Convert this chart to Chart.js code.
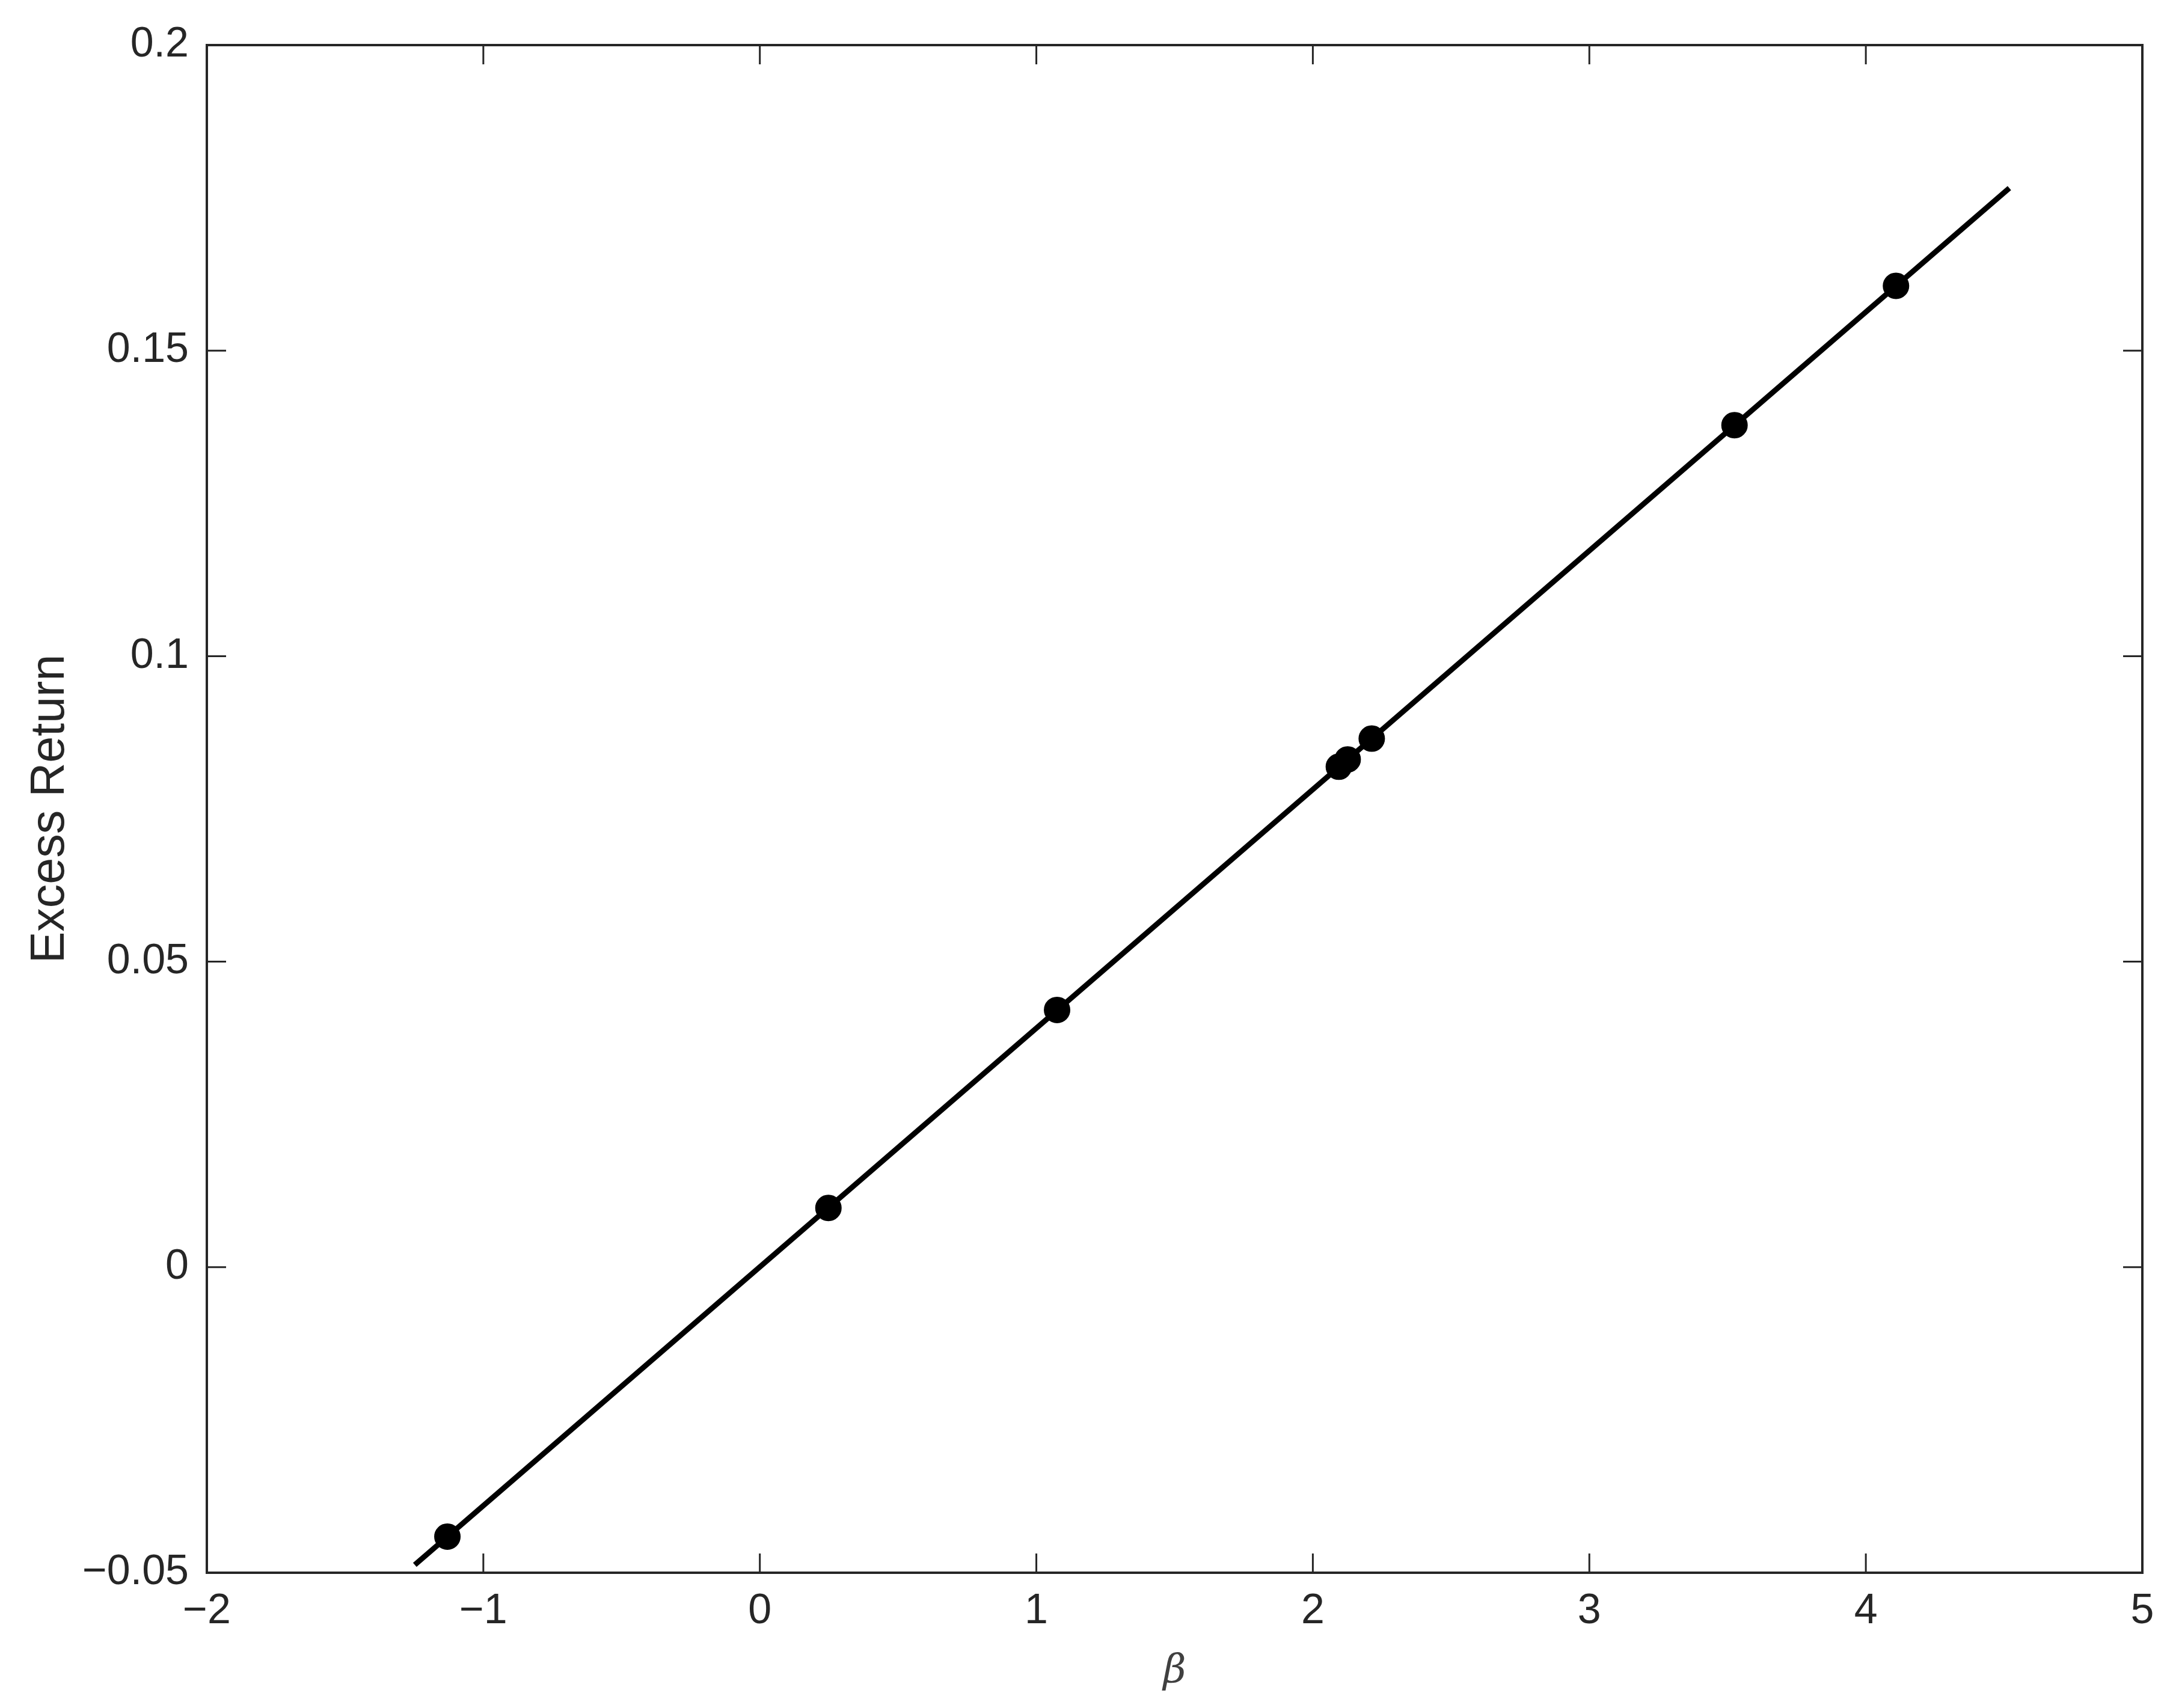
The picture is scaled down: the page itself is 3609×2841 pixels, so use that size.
<!DOCTYPE html>
<html>
<head>
<meta charset="utf-8">
<script src="https://cdn.jsdelivr.net/npm/chart.js@4.4.0/dist/chart.umd.min.js"></script>
<style>
  html, body { margin: 0; padding: 0; background: #fff; }
  canvas { display: block; }
</style>
</head>
<body>
<canvas id="capm" width="3609" height="2841"></canvas>
<script>
// portföy betaları ve aşırı getiriler
const betas = [-1.13, 0.248, 1.075, 2.094, 2.126, 2.213, 3.525, 4.109];
const excessReturns = [-0.0441, 0.0097, 0.0421, 0.0819, 0.0831, 0.0865, 0.1378, 0.1606];

// güvenlik piyasası doğrusu uç noktaları
const lineBetas = [-1.248, 4.519];
const lineReturns = [-0.0487, 0.1766];

// eksen işaretleri
const xTicks = [-2, -1, 0, 1, 2, 3, 4, 5];
const yTicks = [-0.05, 0, 0.05, 0.1, 0.15, 0.2];

const axisColor = '#262626';
const minus = v => String(v).replace('-', '\u2212');

// çerçeve ve içe bakan tick çizgileri
const framePlugin = {
    id: 'frame',
    afterDraw(chart) {
        const { ctx, chartArea: a, scales } = chart;
        const len = 32;
        ctx.save();
        ctx.strokeStyle = axisColor;
        ctx.lineWidth = 3;
        ctx.beginPath();
        xTicks.forEach(v => {
            const px = scales.x.getPixelForValue(v);
            ctx.moveTo(px, a.bottom); ctx.lineTo(px, a.bottom - len);
            ctx.moveTo(px, a.top); ctx.lineTo(px, a.top + len);
        });
        yTicks.forEach(v => {
            const py = scales.y.getPixelForValue(v);
            ctx.moveTo(a.left, py); ctx.lineTo(a.left + len, py);
            ctx.moveTo(a.right, py); ctx.lineTo(a.right - len, py);
        });
        ctx.stroke();
        ctx.lineWidth = 4;
        ctx.strokeRect(a.left, a.top, a.right - a.left, a.bottom - a.top);
        ctx.restore();
    }
};

new Chart(document.getElementById('capm').getContext('2d'), {
    type: 'scatter',
    data: {
        datasets: [
            {
                label: 'SML',
                data: lineBetas.map((b, i) => ({ x: b, y: lineReturns[i] })),
                showLine: true,
                borderColor: '#000',
                borderWidth: 9,
                pointRadius: 0,
                order: 2
            },
            {
                label: 'Portföyler',
                data: betas.map((b, i) => ({ x: b, y: excessReturns[i] })),
                backgroundColor: '#000',
                borderColor: '#000',
                borderWidth: 2,
                pointRadius: 21,
                order: 1
            }
        ]
    },
    options: {
        responsive: false,
        animation: false,
        devicePixelRatio: 1,
        layout: {
            padding: { top: 75, right: 46, left: 0, bottom: 0 }
        },
        scales: {
            x: {
                min: -2,
                max: 5,
                afterBuildTicks: s => { s.ticks = xTicks.map(v => ({ value: v })); },
                afterFit: s => { s.height = 225; },
                grid: { display: false, drawTicks: false },
                border: { display: false },
                ticks: {
                    color: axisColor,
                    padding: 23,
                    maxRotation: 0,
                    font: { family: 'Liberation Sans', size: 70 },
                    callback: v => minus(v)
                },
                title: {
                    display: true,
                    text: 'β',
                    color: '#404040',
                    padding: { top: 0, bottom: 21 },
                    font: { family: 'DejaVu Serif', style: 'italic', size: 66 }
                }
            },
            y: {
                min: -0.05,
                max: 0.2,
                afterBuildTicks: s => { s.ticks = yTicks.map(v => ({ value: v })); },
                afterFit: s => { s.width = 344; },
                grid: { display: false, drawTicks: false },
                border: { display: false },
                ticks: {
                    color: axisColor,
                    padding: 30,
                    font: { family: 'Liberation Sans', size: 70 },
                    callback: v => minus(v)
                },
                title: {
                    display: true,
                    text: 'Excess Return',
                    color: axisColor,
                    padding: { top: 37, bottom: 0 },
                    font: { family: 'Liberation Sans', size: 79 }
                }
            }
        },
        plugins: {
            legend: { display: false },
            tooltip: { enabled: false }
        }
    },
    plugins: [framePlugin]
});
</script>
</body>
</html>
